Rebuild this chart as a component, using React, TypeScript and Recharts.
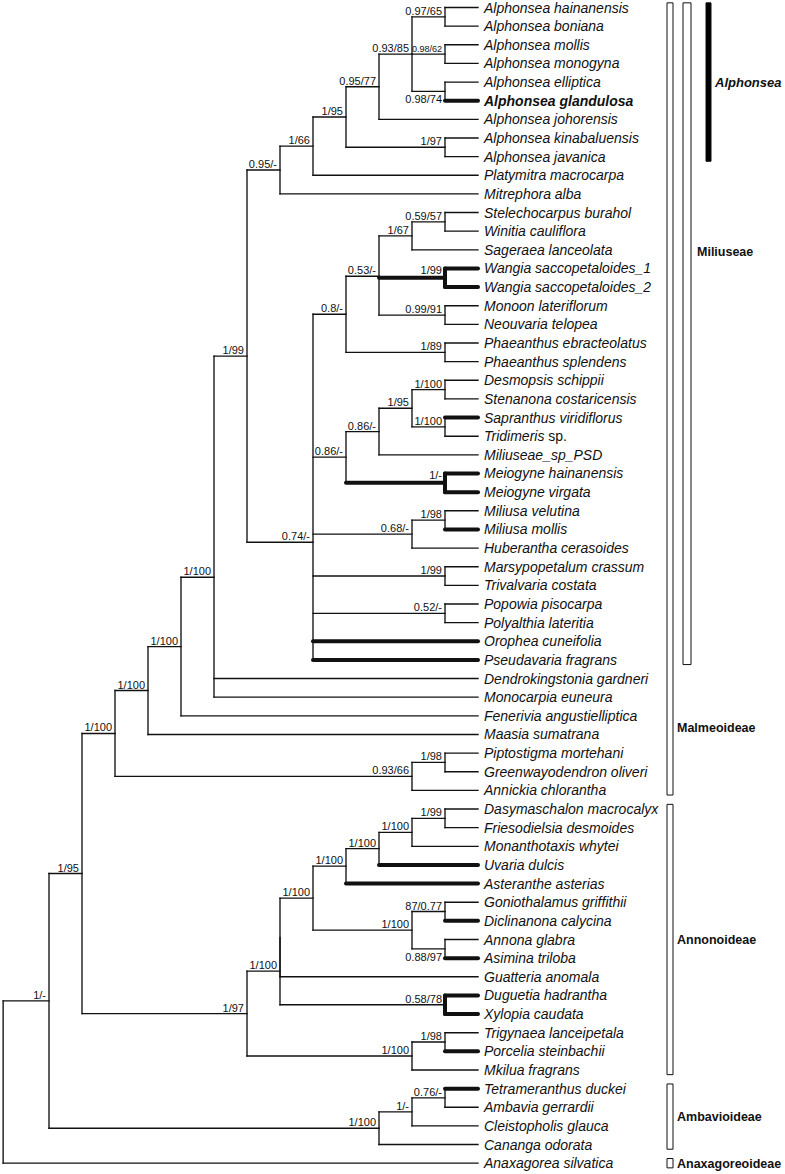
import { ComposedChart, ReferenceArea, ReferenceLine, Scatter, XAxis, YAxis } from 'recharts';

// tip order, top to bottom
const taxa = [
    'Alphonsea hainanensis', 'Alphonsea boniana', 'Alphonsea mollis', 'Alphonsea monogyna',
    'Alphonsea elliptica', 'Alphonsea glandulosa', 'Alphonsea johorensis', 'Alphonsea kinabaluensis',
    'Alphonsea javanica', 'Platymitra macrocarpa', 'Mitrephora alba', 'Stelechocarpus burahol',
    'Winitia cauliflora', 'Sageraea lanceolata', 'Wangia saccopetaloides_1', 'Wangia saccopetaloides_2',
    'Monoon lateriflorum', 'Neouvaria telopea', 'Phaeanthus ebracteolatus', 'Phaeanthus splendens',
    'Desmopsis schippii', 'Stenanona costaricensis', 'Sapranthus viridiflorus', 'Tridimeris sp.',
    'Miliuseae_sp_PSD', 'Meiogyne hainanensis', 'Meiogyne virgata', 'Miliusa velutina',
    'Miliusa mollis', 'Huberantha cerasoides', 'Marsypopetalum crassum', 'Trivalvaria costata',
    'Popowia pisocarpa', 'Polyalthia lateritia', 'Orophea cuneifolia', 'Pseudavaria fragrans',
    'Dendrokingstonia gardneri', 'Monocarpia euneura', 'Fenerivia angustielliptica', 'Maasia sumatrana',
    'Piptostigma mortehani', 'Greenwayodendron oliveri', 'Annickia chlorantha', 'Dasymaschalon macrocalyx',
    'Friesodielsia desmoides', 'Monanthotaxis whytei', 'Uvaria dulcis', 'Asteranthe asterias',
    'Goniothalamus griffithii', 'Diclinanona calycina', 'Annona glabra', 'Asimina triloba',
    'Guatteria anomala', 'Duguetia hadrantha', 'Xylopia caudata', 'Trigynaea lanceipetala',
    'Porcelia steinbachii', 'Mkilua fragrans', 'Tetrameranthus duckei', 'Ambavia gerrardii',
    'Cleistopholis glauca', 'Cananga odorata', 'Anaxagorea silvatica',
];

// [id, level (steps back from the tips), children, support PP/BS]
const clades: [string, number, string[], string][] = [
    ['a1', 1, ['Alphonsea hainanensis', 'Alphonsea boniana'], '0.97/65'],
    ['a2', 1, ['Alphonsea mollis', 'Alphonsea monogyna'], '0.98/62'],
    ['a3', 1, ['Alphonsea elliptica', 'Alphonsea glandulosa'], '0.98/74'],
    ['a4', 2, ['a1', 'a2', 'a3'], '0.93/85'],
    ['a5', 3, ['a4', 'Alphonsea johorensis'], '0.95/77'],
    ['a6', 1, ['Alphonsea kinabaluensis', 'Alphonsea javanica'], '1/97'],
    ['a7', 4, ['a5', 'a6'], '1/95'],
    ['a8', 5, ['a7', 'Platymitra macrocarpa'], '1/66'],
    ['a9', 6, ['a8', 'Mitrephora alba'], '0.95/-'],
    ['m1', 1, ['Stelechocarpus burahol', 'Winitia cauliflora'], '0.59/57'],
    ['m2', 2, ['m1', 'Sageraea lanceolata'], '1/67'],
    ['m3', 1, ['Wangia saccopetaloides_1', 'Wangia saccopetaloides_2'], '1/99'],
    ['m4', 1, ['Monoon lateriflorum', 'Neouvaria telopea'], '0.99/91'],
    ['m5', 3, ['m2', 'm3', 'm4'], '0.53/-'],
    ['m6', 1, ['Phaeanthus ebracteolatus', 'Phaeanthus splendens'], '1/89'],
    ['m7', 4, ['m5', 'm6'], '0.8/-'],
    ['m8', 1, ['Desmopsis schippii', 'Stenanona costaricensis'], '1/100'],
    ['m9', 1, ['Sapranthus viridiflorus', 'Tridimeris sp.'], '1/100'],
    ['m10', 2, ['m8', 'm9'], '1/95'],
    ['m11', 3, ['m10', 'Miliuseae_sp_PSD'], '0.86/-'],
    ['m12', 1, ['Meiogyne hainanensis', 'Meiogyne virgata'], '1/-'],
    ['m13', 4, ['m11', 'm12'], '0.86/-'],
    ['m14', 1, ['Miliusa velutina', 'Miliusa mollis'], '1/98'],
    ['m15', 2, ['m14', 'Huberantha cerasoides'], '0.68/-'],
    ['m16', 1, ['Marsypopetalum crassum', 'Trivalvaria costata'], '1/99'],
    ['m17', 1, ['Popowia pisocarpa', 'Polyalthia lateritia'], '0.52/-'],
    ['m18', 5, ['m7', 'm13', 'm15', 'm16', 'm17', 'Orophea cuneifolia', 'Pseudavaria fragrans'], '0.74/-'],
    ['m19', 7, ['a9', 'm18'], '1/99'],
    ['g1', 8, ['m19', 'Dendrokingstonia gardneri', 'Monocarpia euneura'], '1/100'],
    ['g2', 9, ['g1', 'Fenerivia angustielliptica'], '1/100'],
    ['g3', 10, ['g2', 'Maasia sumatrana'], '1/100'],
    ['g4', 1, ['Piptostigma mortehani', 'Greenwayodendron oliveri'], '1/98'],
    ['g5', 2, ['g4', 'Annickia chlorantha'], '0.93/66'],
    ['g6', 11, ['g3', 'g5'], '1/100'],
    ['n1', 1, ['Dasymaschalon macrocalyx', 'Friesodielsia desmoides'], '1/99'],
    ['n2', 2, ['n1', 'Monanthotaxis whytei'], '1/100'],
    ['n3', 3, ['n2', 'Uvaria dulcis'], '1/100'],
    ['n4', 4, ['n3', 'Asteranthe asterias'], '1/100'],
    ['n5', 1, ['Goniothalamus griffithii', 'Diclinanona calycina'], '87/0.77'],
    ['n6', 1, ['Annona glabra', 'Asimina triloba'], '0.88/97'],
    ['n7', 2, ['n5', 'n6'], '1/100'],
    ['n8', 5, ['n4', 'n7'], '1/100'],
    ['n9', 1, ['Duguetia hadrantha', 'Xylopia caudata'], '0.58/78'],
    ['n10', 6, ['n8', 'Guatteria anomala'], ''],
    ['n11', 6, ['n10', 'n9'], '1/100'],
    ['n12', 1, ['Trigynaea lanceipetala', 'Porcelia steinbachii'], '1/98'],
    ['n13', 2, ['n12', 'Mkilua fragrans'], '1/100'],
    ['n14', 7, ['n11', 'n13'], '1/97'],
    ['r1', 12, ['g6', 'n14'], '1/95'],
    ['b1', 1, ['Tetrameranthus duckei', 'Ambavia gerrardii'], '0.76/-'],
    ['b2', 2, ['b1', 'Cleistopholis glauca'], '1/-'],
    ['b3', 3, ['b2', 'Cananga odorata'], '1/100'],
    ['r2', 13, ['r1', 'b3'], '1/-'],
    ['root', 14.39, ['r2', 'Anaxagorea silvatica'], ''],
];

const thickBranches = [
    'Alphonsea glandulosa', 'm3', 'Wangia saccopetaloides_1', 'Wangia saccopetaloides_2',
    'Sapranthus viridiflorus', 'm12', 'Meiogyne hainanensis', 'Meiogyne virgata', 'Miliusa mollis',
    'Orophea cuneifolia', 'Pseudavaria fragrans', 'Uvaria dulcis', 'Asteranthe asterias',
    'Diclinanona calycina', 'Asimina triloba', 'Duguetia hadrantha', 'Xylopia caudata',
    'Porcelia steinbachii', 'Tetrameranthus duckei',
];
const boldTaxa = ['Alphonsea glandulosa'];
const labelsBelow = ['a3', 'n6'];
const smallLabels = ['a2'];

// [name, first tip, last tip, column]
const groups: [string, string, string, number][] = [
    ['Malmeoideae', 'Alphonsea hainanensis', 'Annickia chlorantha', 0],
    ['Annonoideae', 'Dasymaschalon macrocalyx', 'Mkilua fragrans', 0],
    ['Ambavioideae', 'Tetrameranthus duckei', 'Cananga odorata', 0],
    ['Anaxagoreoideae', 'Anaxagorea silvatica', 'Anaxagorea silvatica', 0],
    ['Miliuseae', 'Alphonsea hainanensis', 'Pseudavaria fragrans', 1],
    ['Alphonsea', 'Alphonsea hainanensis', 'Alphonsea javanica', 2],
];
const groupLabelRow: Record<string, number> = { Malmeoideae: 38.65, Miliuseae: 13.1 };

const FONT = '"Liberation Sans", Arial, sans-serif';
const INK = '#111';
const COLS = [
    { x1: 667, x2: 673, fill: '#fff', label: 677 },
    { x1: 683, x2: 691, fill: '#fff', label: 697 },
    { x1: 706, x2: 711, fill: '#000', label: 715 },
];

const yOf = new Map<string, number>();
const levelOf = new Map<string, number>();
taxa.forEach((t, i) => { yOf.set(t, i); levelOf.set(t, 0); });
clades.forEach(([id, level, kids]) => {
    yOf.set(id, kids.reduce((s, k) => s + (yOf.get(k) as number), 0) / kids.length);
    levelOf.set(id, level);
});

type Seg = { x1: number; y1: number; x2: number; y2: number; thick: boolean };
const segs: Seg[] = [];
clades.forEach(([, level, kids]) => {
    const ys = kids.map((k) => yOf.get(k) as number);
    const allThick = kids.every((k) => thickBranches.includes(k));
    segs.push({ x1: level, y1: Math.min(...ys), x2: level, y2: Math.max(...ys), thick: allThick });
    kids.forEach((k) => {
        const kl = levelOf.get(k) as number;
        if (kl === level) return;
        const y = yOf.get(k) as number;
        segs.push({ x1: level, y1: y, x2: kl, y2: y, thick: thickBranches.includes(k) });
    });
});
const orderedSegs = [...segs.filter((s) => !s.thick), ...segs.filter((s) => s.thick)];

const tipPoints = taxa.map((name, i) => ({ x: 0, y: i, name }));
const supportPoints = clades
    .filter(([, , , s]) => s !== '')
    .map(([id, level, , s]) => ({ x: level, y: yOf.get(id) as number, text: s, id }));
const groupPoints = groups.map(([name, a, b, col]) => ({
    x: COLS[col].label,
    y: groupLabelRow[name] ?? ((yOf.get(a) as number) + (yOf.get(b) as number)) / 2,
    name,
    italic: name === 'Alphonsea',
}));

const TipLabel = (p: any) => {
    const name: string = p.payload.name;
    const sp = name.endsWith(' sp.');
    return (
        <text x={p.cx + 6} y={p.cy + 5} fontSize={14} fontFamily={FONT} fontStyle="italic"
            fontWeight={boldTaxa.includes(name) ? 'bold' : 'normal'} fill={INK}>
            {sp ? <><tspan>{name.slice(0, -4)}</tspan><tspan fontStyle="normal"> sp.</tspan></> : name}
        </text>
    );
};

const SupportLabel = (p: any) => {
    const { id, text } = p.payload;
    const below = labelsBelow.includes(id);
    const lift = thickBranches.includes(id) ? 4 : 2;
    return (
        <text x={p.cx - 3} y={below ? p.cy + 12 : p.cy - lift} textAnchor="end" fontFamily={FONT}
            fontSize={smallLabels.includes(id) ? 9 : 11} fill={INK}>
            {text}
        </text>
    );
};

const GroupLabel = (p: any) => {
    const { name, italic } = p.payload;
    return (
        <text x={p.cx} y={p.cy + 4.5} fontFamily={FONT} fontSize={italic ? 13 : 12.5}
            fontWeight="bold" fontStyle={italic ? 'italic' : 'normal'} fill={INK}>
            {name}
        </text>
    );
};

const App = () => {
    return (
        <div style={{ position: 'absolute', left: 0, top: 0, background: '#fff' }}>
            <ComposedChart width={785} height={1174} margin={{ top: 0, right: 0, left: 0, bottom: 0 }}>
                <XAxis xAxisId={0} type="number" dataKey="x" domain={[-9.303, 14.485]} reversed hide allowDataOverflow />
                <XAxis xAxisId="px" type="number" dataKey="x" domain={[0, 785]} hide allowDataOverflow />
                <YAxis type="number" dataKey="y" domain={[-0.402, 62.58]} reversed hide allowDataOverflow />
                {groups.map(([name, a, b, col]) => (
                    <ReferenceArea key={name} xAxisId="px" x1={COLS[col].x1} x2={COLS[col].x2}
                        y1={(yOf.get(a) as number) - 0.25} y2={(yOf.get(b) as number) + 0.25}
                        fill={COLS[col].fill} fillOpacity={1} stroke={INK} strokeWidth={1} ifOverflow="visible" />
                ))}
                {orderedSegs.map((s, i) => (
                    <ReferenceLine key={i} segment={[{ x: s.x1, y: s.y1 }, { x: s.x2, y: s.y2 }]}
                        stroke={INK} strokeWidth={s.thick ? 4 : 1.35}
                        strokeLinecap={s.thick ? 'round' : 'square'} ifOverflow="visible" />
                ))}
                <Scatter data={tipPoints} dataKey="y" shape={TipLabel} isAnimationActive={false} />
                <Scatter data={supportPoints} dataKey="y" shape={SupportLabel} isAnimationActive={false} />
                <Scatter data={groupPoints} dataKey="y" xAxisId="px" shape={GroupLabel} isAnimationActive={false} />
            </ComposedChart>
        </div>
    );
};

export default App;
